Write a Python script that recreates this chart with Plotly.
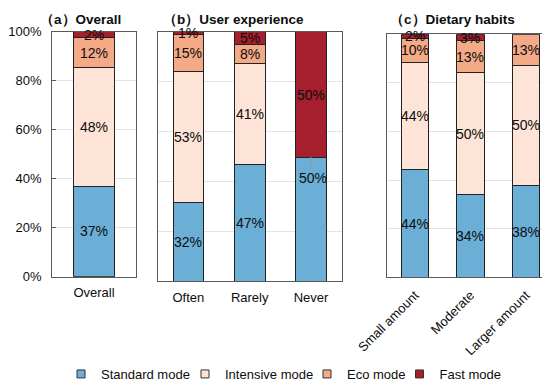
import plotly.graph_objects as go

W, H = 550, 381

modes = ["Standard mode", "Intensive mode", "Eco mode", "Fast mode"]
colors = ["#6BAED6", "#FDE4D6", "#F4A987", "#A51F2E"]

# Panel (a) Overall
cats_a = ["Overall"]
standard_a = [37.0]
intensive_a = [48.4]
eco_a = [12.2]
fast_a = [2.4]

# Panel (b) User experience
cats_b = ["Often", "Rarely", "Never"]
standard_b = [31.7, 46.6, 49.8]
intensive_b = [52.6, 40.6, 0]
eco_b = [14.6, 7.9, 0]
fast_b = [1.1, 4.9, 50.2]

# Panel (c) Dietary habits
cats_c = ["Small amount", "Moderate", "Larger amount"]
standard_c = [44.3, 34.3, 37.7]
intensive_c = [44.3, 49.8, 49.6]
eco_c = [9.8, 13.3, 12.7]
fast_c = [1.6, 2.6, 0]

titles = ["（a）Overall", "（b）User experience", "（c）Dietary habits"]
y_ticks = [0, 20, 40, 60, 80, 100]

FONT = "Liberation Sans, Arial, sans-serif"
TXT = "#0d0d0d"

panels = [
    (cats_a, [standard_a, intensive_a, eco_a, fast_a], "x", "y"),
    (cats_b, [standard_b, intensive_b, eco_b, fast_b], "x2", "y2"),
    (cats_c, [standard_c, intensive_c, eco_c, fast_c], "x3", "y3"),
]

fig = go.Figure()
annotations = []

for cats, series, xa, ya in panels:
    for name, vals, col in zip(modes, series, colors):
        fig.add_trace(go.Bar(
            x=list(range(len(cats))), y=[v if v > 0 else None for v in vals],
            name=name, marker=dict(color=col, line=dict(color="#222222", width=1)),
            width=0.5, xaxis=xa, yaxis=ya, showlegend=False, hoverinfo="skip"))
    # value labels
    for i, cat in enumerate(cats):
        cum = 0
        for k, vals in enumerate(series):
            v = vals[i]
            if v > 0:
                mid = cum + v / 2
                label = f"{round(v)}%"
                if cat == "Never" and k == 0:
                    # label placed near the top of the segment with a leader line
                    annotations.append(dict(
                        x=i, y=cum + v, xref=xa, yref=ya, axref=xa, ayref=ya,
                        ax=i + 0.03, ay=cum + v - 8.3, text=label, showarrow=True,
                        arrowhead=0, arrowwidth=1, arrowcolor="#9a9a9a", standoff=0,
                        font=dict(family=FONT, size=14, color=TXT)))
                else:
                    annotations.append(dict(
                        x=i, y=mid, xref=xa, yref=ya, text=label, showarrow=False,
                        font=dict(family=FONT, size=14, color=TXT)))
            cum += v

# legend entries (one legend per item for tight spacing)
legend_ids = ["legend", "legend2", "legend3", "legend4"]
legend_marker_px = [73, 197, 319, 411.5]
for name, col, lid in zip(modes, colors, legend_ids):
    fig.add_trace(go.Scatter(
        x=[None], y=[None], mode="markers", name=name, legend=lid,
        marker=dict(symbol="square", size=8, color=col, line=dict(color="#333333", width=1)),
        xaxis="x", yaxis="y", showlegend=True))

legend_common = dict(orientation="h", yanchor="middle", xanchor="left",
                     font=dict(family=FONT, size=13, color=TXT),
                     bgcolor="rgba(0,0,0,0)", borderwidth=0)
legend_layout = {}
for lid, mx in zip(legend_ids, legend_marker_px):
    legend_layout[lid] = dict(legend_common, x=(mx - 20) / W, y=1 - 371 / H)

# panel titles
title_end_px = [115, 297.5, 508.5]
for t, ex in zip(titles, title_end_px):
    annotations.append(dict(
        x=ex / W, y=1 - 12 / H, xref="paper", yref="paper", xanchor="right",
        yanchor="middle", text=f"<b>{t}</b>", showarrow=False,
        font=dict(family=FONT, size=13.5, color=TXT)))

def xdom(l, r):
    return [l / W, r / W]

def ydom(top, bottom):
    return [1 - bottom / H, 1 - top / H]

frame = "#5a5a5a"
grid = "#e4e4e4"

def xaxis(dom, n, cats, angle=0, anchor="y"):
    return dict(domain=dom, range=[-0.5, n - 0.5], tickmode="array",
                tickvals=list(range(n)), ticktext=cats, tickangle=angle,
                showgrid=False, showline=True, mirror=True, linecolor=frame,
                linewidth=1.3, ticks="", ticklabelstandoff=4, anchor=anchor,
                tickfont=dict(family=FONT, size=13, color=TXT), zeroline=False,
                fixedrange=True, automargin=False)

def yaxis(dom, anchor, labels):
    return dict(domain=dom, range=[0, 100], tickmode="array", tickvals=y_ticks,
                ticktext=[f"{v}%" for v in y_ticks], showticklabels=labels,
                ticks="inside" if labels else "", ticklen=4, tickcolor=frame,
                showgrid=True, gridcolor=grid, gridwidth=1, showline=True,
                mirror=True, linecolor=frame, linewidth=1.3, zeroline=False,
                anchor=anchor, ticklabelstandoff=7,
                tickfont=dict(family=FONT, size=13, color=TXT), automargin=False)

fig.update_layout(
    width=W, height=H, margin=dict(l=0, r=0, t=0, b=0),
    paper_bgcolor="white", plot_bgcolor="white", barmode="stack",
    font=dict(family=FONT, size=13, color=TXT),
    xaxis=xaxis(xdom(44.3, 127.7), 1, cats_a, anchor="y"),
    yaxis=yaxis(ydom(24, 272.3), "x", True),
    xaxis2=xaxis(xdom(149.7, 333.7), 3, cats_b, anchor="y2"),
    yaxis2=yaxis(ydom(24.3, 276.7), "x2", False),
    xaxis3=xaxis(xdom(379.3, 545.7), 3, cats_c, angle=-45, anchor="y3"),
    yaxis3=yaxis(ydom(26.7, 273), "x3", False),
    annotations=annotations,
    **legend_layout,
)

fig.write_html("out.html")
